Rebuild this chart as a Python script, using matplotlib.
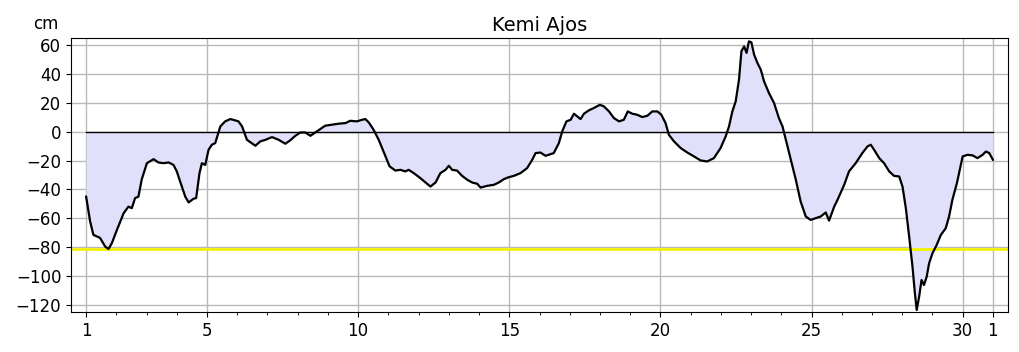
import numpy as np
import matplotlib
matplotlib.use("Agg")
import matplotlib.pyplot as plt
from matplotlib.ticker import MultipleLocator

# Sea level at Kemi Ajos, time in days of month (31 = next month's 1st)
days = [1.00, 1.13, 1.24, 1.46, 1.63, 1.74, 1.85, 2.02, 2.24, 2.40, 2.51, 2.62,
        2.73, 2.84, 3.01, 3.23, 3.39, 3.56, 3.73, 3.89, 4.00, 4.11, 4.28, 4.39,
        4.55, 4.64, 4.75, 4.83, 4.94, 5.05, 5.16, 5.27, 5.44, 5.60, 5.77, 5.93,
        6.04, 6.16, 6.32, 6.60, 6.76, 6.93, 7.15, 7.37, 7.59, 7.75, 7.92, 8.09,
        8.25, 8.42, 8.58, 8.75, 8.91, 9.14, 9.36, 9.58, 9.74, 9.96, 10.13, 10.24,
        10.35, 10.51, 10.68, 10.84, 11.04, 11.23, 11.40, 11.56, 11.67, 11.84, 12.06,
        12.23, 12.39, 12.56, 12.72, 12.89, 13.00, 13.11, 13.27, 13.44, 13.61, 13.77,
        13.94, 14.05, 14.27, 14.49, 14.65, 14.82, 14.98, 15.15, 15.37, 15.59, 15.76,
        15.87, 16.03, 16.20, 16.47, 16.64, 16.75, 16.89, 17.03, 17.14, 17.25, 17.36,
        17.47, 17.63, 17.80, 18.00, 18.13, 18.30, 18.46, 18.63, 18.79, 18.92, 19.07,
        19.23, 19.40, 19.57, 19.73, 19.90, 20.03, 20.17, 20.28, 20.45, 20.67, 20.89,
        21.11, 21.33, 21.55, 21.77, 21.99, 22.16, 22.27, 22.38, 22.49, 22.60, 22.68,
        22.77, 22.85, 22.93, 23.01, 23.10, 23.21, 23.32, 23.43, 23.59, 23.76, 23.92,
        24.04, 24.15, 24.31, 24.48, 24.64, 24.81, 24.97, 25.14, 25.30, 25.47, 25.58,
        25.75, 25.86, 26.08, 26.24, 26.46, 26.68, 26.85, 26.96, 27.07, 27.24, 27.40,
        27.57, 27.73, 27.90, 28.01, 28.12, 28.23, 28.34, 28.42, 28.48, 28.56, 28.64,
        28.72, 28.81, 28.89, 29.00, 29.14, 29.28, 29.44, 29.55, 29.66, 29.81, 30.00,
        30.16, 30.33, 30.49, 30.66, 30.77, 30.88, 31.00]
level = [-45.0, -62.0, -71.5, -73.6, -79.6, -81.3, -77.3, -68.0, -56.5, -51.9, -53.0, -46.0,
         -45.0, -33.0, -21.8, -19.0, -21.3, -21.8, -21.3, -23.0, -27.5, -34.5, -45.0, -49.0,
         -46.5, -46.0, -28.7, -21.8, -23.0, -12.5, -9.0, -7.9, 3.7, 7.2, 8.8, 7.9,
         7.2, 3.7, -5.6, -9.7, -6.7, -5.6, -3.7, -5.6, -8.3, -6.0, -2.8, -0.5,
         -0.5, -2.8, -0.5, 1.9, 4.2, 4.9, 5.6, 6.0, 7.6, 7.2, 8.3, 8.8,
         6.5, 1.4, -5.6, -13.7, -24.0, -26.9, -26.4, -27.5, -26.4, -28.7, -32.2,
         -35.2, -38.0, -35.2, -28.7, -26.4, -23.6, -26.4, -26.9, -30.6, -33.3, -35.2,
         -36.1, -38.7, -37.5, -36.8, -35.2, -32.9, -31.5, -30.6, -28.7, -25.2, -19.4,
         -14.8, -14.4, -16.7, -14.8, -7.9, 0.2, 7.2, 8.3, 12.5, 10.6, 8.8,
         12.5, 14.8, 16.5, 18.7, 17.6, 14.1, 9.5, 7.2, 8.3, 14.1, 12.5,
         11.8, 10.2, 11.1, 14.1, 14.1, 11.8, 6.0, -2.1, -6.7, -11.3, -14.4,
         -17.1, -19.9, -20.6, -18.3, -11.3, -3.2, 3.7, 14.1, 21.0, 36.1, 55.8,
         59.2, 54.7, 62.7, 62.0, 53.5, 47.7, 43.1, 34.9, 26.9, 19.9, 9.5,
         3.7, -5.6, -19.4, -33.3, -48.4, -58.8, -61.1, -59.9, -58.8, -56.0, -61.6,
         -51.9, -47.2, -36.8, -27.5, -21.8, -14.8, -10.2, -9.0, -12.5, -18.3, -21.8,
         -27.5, -30.6, -31.0, -38.0, -53.0, -72.7, -93.5, -112.0, -123.6, -114.4, -102.8,
         -106.3, -100.5, -91.2, -84.3, -78.5, -71.5, -66.9, -58.8, -47.2, -35.6, -17.1,
         -16.0, -16.4, -18.3, -16.0, -13.7, -14.8, -19.4]

limit_level = -81
tick_days = [1, 5, 10, 15, 20, 25, 30, 31]
tick_labels = ["1", "5", "10", "15", "20", "25", "30", "1"]

fig = plt.figure(figsize=(10.19, 3.52), dpi=100)
ax = fig.add_axes([0.0697, 0.1136, 0.9195, 0.7784])

ax.fill_between(days, level, 0, color="#e0e0fa", lw=0)
ax.plot([days[0], days[-1]], [0, 0], color="black", lw=1, zorder=3)
ax.axhline(limit_level, color="#f2f200", lw=2, zorder=2)
ax.plot(days, level, color="black", lw=1.6, zorder=4)

ax.set_xlim(0.5, 31.5)
ax.set_ylim(-125, 65)
ax.set_xticks(tick_days)
ax.set_xticklabels(tick_labels)
ax.xaxis.set_minor_locator(MultipleLocator(1))
ax.yaxis.set_major_locator(MultipleLocator(20))
ax.grid(True, which="major", color="#b8b8b8", lw=1)
ax.set_axisbelow(True)
ax.tick_params(labelsize=12)
ax.set_title("Kemi Ajos", fontsize=14, pad=5)
ax.text(-0.027, 1.018, "cm", transform=ax.transAxes, fontsize=12, ha="center", va="bottom")

fig.savefig("out.png", dpi=100)
